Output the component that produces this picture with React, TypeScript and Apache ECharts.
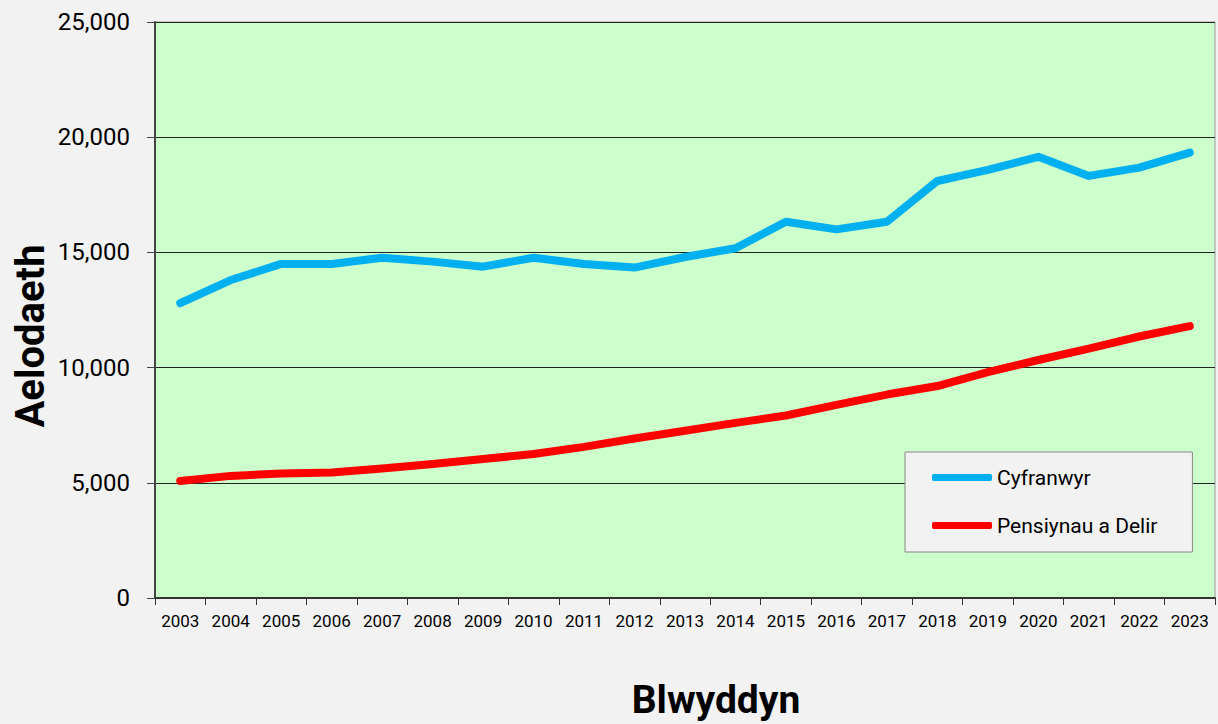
import React, { useEffect, useRef } from "react";
import * as echarts from "echarts";

const years = ["2003","2004","2005","2006","2007","2008","2009","2010","2011","2012","2013","2014","2015","2016","2017","2018","2019","2020","2021","2022","2023"];
const cyfranwyr = [12800,13800,14500,14500,14770,14600,14380,14770,14500,14340,14800,15180,16330,16000,16330,18100,18580,19150,18320,18680,19330];
const pensiynau = [5080,5300,5400,5450,5620,5820,6030,6250,6560,6920,7260,7600,7920,8380,8830,9200,9800,10330,10820,11350,11800];
const seriesNames = ["Cyfranwyr", "Pensiynau a Delir"];
const yTitle = "Aelodaeth";
const xTitle = "Blwyddyn";

const FONT = "Roboto";

export default function App() {
  const ref = useRef<HTMLDivElement>(null);
  useEffect(() => {
    if (!ref.current) return;
    const chart = echarts.init(ref.current, null, { renderer: "svg" });
    chart.setOption({
      animation: false,
      backgroundColor: "#f2f2f2",
      grid: {
        left: 155, top: 22, width: 1060, height: 576,
        show: true, backgroundColor: "#ccffcc", borderColor: "#999", borderWidth: 1,
      },
      xAxis: {
        type: "category",
        data: years,
        boundaryGap: true,
        axisLine: { show: true, lineStyle: { color: "#333", width: 2 } },
        axisTick: { show: true, length: 7, lineStyle: { color: "#333", width: 1 } },
        axisLabel: { margin: 14, color: "#000", fontFamily: FONT, fontSize: 17 },
        splitLine: { show: false },
      },
      yAxis: {
        type: "value",
        min: 0, max: 25000, interval: 5000,
        axisLine: { show: true, lineStyle: { color: "#444", width: 2 } },
        axisTick: { show: true, length: 8, lineStyle: { color: "#444", width: 1 } },
        axisLabel: {
          margin: 25, color: "#000", fontFamily: FONT, fontSize: 24,
          formatter: (v: number) => v.toLocaleString("en-US"),
        },
        splitLine: { show: true, lineStyle: { color: "#222", width: 1.2 } },
      },
      legend: {
        orient: "vertical",
        left: 905, top: 452,
        backgroundColor: "#f2f2f2",
        borderColor: "#888", borderWidth: 1,
        padding: [15, 35, 16, 27],
        itemGap: 27,
        itemWidth: 60, itemHeight: 7,
        icon: "roundRect",
        textStyle: { fontFamily: FONT, fontSize: 21, color: "#000" },
        data: seriesNames,
      },
      series: [
        {
          name: seriesNames[0], type: "line", data: cyfranwyr,
          symbol: "none", color: "#00b0f0",
          lineStyle: { width: 8, color: "#00b0f0", cap: "round", join: "round" },
        },
        {
          name: seriesNames[1], type: "line", data: pensiynau,
          symbol: "none", color: "#ff0000",
          lineStyle: { width: 8, color: "#ff0000", cap: "round", join: "round" },
        },
      ],
      graphic: [
        {
          type: "text", x: 30, y: 336, rotation: Math.PI / 2,
          style: { text: yTitle, fontFamily: FONT, fontWeight: "bold", fontSize: 40, fill: "#000", textAlign: "center", textVerticalAlign: "middle" },
        },
        {
          type: "text", x: 716, y: 700,
          style: { text: xTitle, fontFamily: FONT, fontWeight: "bold", fontSize: 39, fill: "#000", textAlign: "center", textVerticalAlign: "middle" },
        },
      ],
    });
    return () => chart.dispose();
  }, []);
  return <div ref={ref} style={{ position: "fixed", left: 0, top: 0, width: 1218, height: 724 }} />;
}
